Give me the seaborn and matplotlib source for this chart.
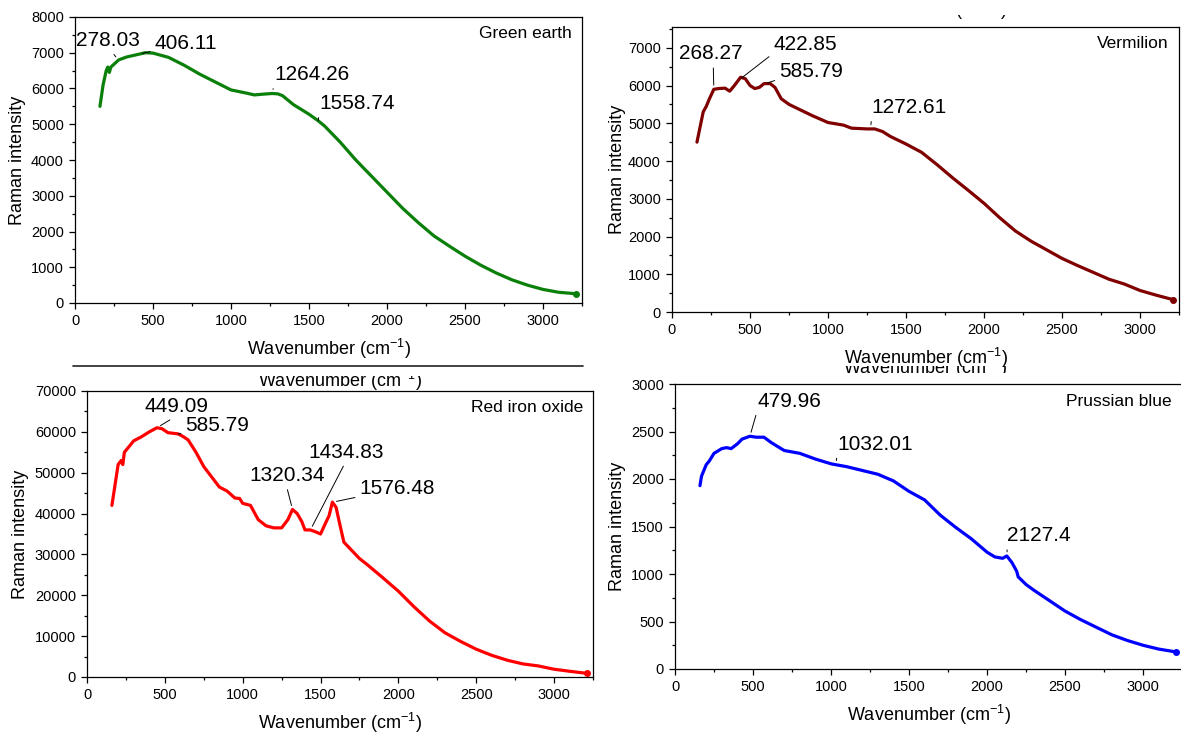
import numpy as np
import matplotlib
matplotlib.use("Agg")
import matplotlib.pyplot as plt
from matplotlib.ticker import MultipleLocator
from matplotlib.transforms import Bbox
import seaborn as sns

# ---- data ----
green_x = [160, 180, 200, 210, 220, 230, 280, 330, 400, 450, 500, 600, 700, 800, 900, 1000,
           1100, 1150, 1200, 1264, 1300, 1330, 1400, 1500, 1558, 1600, 1700, 1800, 1900, 2000,
           2100, 2200, 2300, 2400, 2500, 2600, 2700, 2800, 2900, 3000, 3100, 3210]
green_y = [5500, 6100, 6500, 6600, 6450, 6600, 6800, 6880, 6950, 7000, 6990, 6870, 6650, 6400,
           6180, 5960, 5870, 5820, 5840, 5860, 5850, 5800, 5550, 5280, 5100, 4950, 4500, 4000,
           3550, 3100, 2650, 2250, 1880, 1590, 1310, 1060, 840, 650, 500, 380, 300, 260]
green_peaks = [278.03, 406.11, 1264.26, 1558.74]

verm_x = [160, 180, 200, 220, 240, 268, 300, 340, 370, 400, 440, 470, 500, 530, 560, 590, 630,
          660, 700, 750, 800, 900, 1000, 1100, 1150, 1250, 1300, 1350, 1400, 1500, 1600, 1700,
          1800, 1900, 2000, 2100, 2200, 2300, 2400, 2500, 2600, 2700, 2800, 2900, 3000, 3100, 3210]
verm_y = [4500, 4900, 5300, 5450, 5650, 5900, 5920, 5930, 5850, 6000, 6220, 6180, 6000, 5920,
          5950, 6050, 6050, 5950, 5650, 5500, 5400, 5200, 5020, 4950, 4870, 4850, 4850, 4780,
          4650, 4450, 4230, 3900, 3550, 3220, 2880, 2500, 2150, 1880, 1650, 1420, 1230, 1050,
          870, 740, 570, 450, 330]
verm_peaks = [268.27, 422.85, 585.79, 1272.61]

red_x = [160, 180, 200, 220, 230, 240, 300, 350, 400, 449, 480, 520, 585, 620, 650, 700, 750,
         800, 850, 900, 950, 980, 1000, 1050, 1100, 1150, 1200, 1250, 1290, 1320, 1350, 1380,
         1400, 1434, 1470, 1500, 1530, 1555, 1576, 1600, 1620, 1650, 1700, 1750, 1800, 1900,
         2000, 2100, 2200, 2300, 2400, 2500, 2600, 2700, 2800, 2900, 3000, 3100, 3210]
red_y = [42000, 47000, 52000, 53000, 52000, 55000, 57800, 58800, 60000, 61000, 60800, 59800,
         59500, 58800, 58000, 55000, 51500, 49000, 46500, 45500, 43800, 43700, 42500, 42000,
         38500, 37000, 36500, 36500, 38500, 41000, 40000, 38000, 36000, 36000, 35500, 35000,
         37500, 39500, 42800, 41500, 38000, 33000, 31000, 29000, 27500, 24300, 21000, 17200,
         13700, 10800, 8700, 6800, 5300, 4100, 3200, 2700, 1900, 1400, 900]
red_peaks = [449.09, 585.79, 1320.34, 1434.83, 1576.48]

blue_x = [160, 170, 200, 220, 250, 300, 330, 360, 400, 430, 480, 520, 570, 620, 650, 700, 800,
          900, 1000, 1032, 1100, 1200, 1300, 1400, 1500, 1600, 1700, 1800, 1900, 2000, 2050,
          2100, 2127, 2160, 2190, 2200, 2250, 2300, 2400, 2500, 2600, 2700, 2800, 2900, 3000,
          3100, 3210]
blue_y = [1930, 2030, 2150, 2190, 2270, 2320, 2330, 2320, 2370, 2420, 2450, 2440, 2440, 2380,
          2350, 2300, 2270, 2210, 2160, 2150, 2130, 2090, 2050, 1980, 1870, 1780, 1620, 1490,
          1370, 1230, 1180, 1165, 1190, 1120, 1030, 970, 890, 830, 720, 610, 520, 440, 360,
          300, 250, 210, 180]
blue_peaks = [479.96, 1032.01, 2127.4]

# ---- layout ----
W, H = 1181, 733
sns.set_style("ticks")
plt.rcParams["font.family"] = ["Liberation Sans", "DejaVu Sans"]
plt.rcParams["mathtext.fontset"] = "custom"
plt.rcParams["mathtext.rm"] = "Liberation Sans"
plt.rcParams["mathtext.it"] = "Liberation Sans:italic"
for k in ["text.color", "axes.labelcolor", "xtick.color", "ytick.color", "axes.edgecolor"]:
    plt.rcParams[k] = "black"

fig = plt.figure(figsize=(W / 100, H / 100), dpi=100)
xlab = "Wavenumber (cm$^{-1}$)"


def px_axes(x0, x1, y0, y1):
    return fig.add_axes([x0 / W, 1 - y1 / H, (x1 - x0) / W, (y1 - y0) / H])


panels = [
    dict(box=(75, 582, 17, 303), x=green_x, y=green_y, peaks=green_peaks, color="#0a800a",
         name="Green earth", ylim=8000, major=1000, ylab_off=57,
         txt=[(7, 7340, (0.54, 0)), (512, 7250, (0, 0.15)), (1276, 6390, (0, 0)), (1566, 5580, (0, 0))]),
    dict(box=(672, 1179, 27, 312), x=verm_x, y=verm_y, peaks=verm_peaks, color="#800000",
         name="Vermilion", ylim=7550, major=1000, ylab_off=55,
         txt=[(48, 6840, (0.53, 0)), (650, 7080, (0, 0.05)), (688, 6370, (0, 0.1)), (1280, 5420, (0, 0))]),
    dict(box=(87, 593, 391, 677), x=red_x, y=red_y, peaks=red_peaks, color="#ff0000",
         name="Red iron oxide", ylim=70000, major=10000, ylab_off=66,
         txt=[(369, 66230, (0.5, 0)), (633, 61570, (0, 0.1)), (1042, 49300, (0.49, 0)),
              (1424, 55030, (0.49, 0)), (1751, 46030, (0, 0.1))]),
    dict(box=(675, 1182, 384, 669), x=blue_x, y=blue_y, peaks=blue_peaks, color="#0000ff",
         name="Prussian blue", ylim=3000, major=500, ylab_off=58,
         txt=[(527, 2818, (0, 0)), (1039, 2368, (0, 0)), (2130, 1403, (0, 0))]),
]

for p in panels:
    x0, x1, y0, y1 = p["box"]
    ax = px_axes(x0, x1, y0, y1)
    sns.lineplot(x=p["x"], y=p["y"], ax=ax, color=p["color"], linewidth=2.3)
    ax.plot(p["x"][-1:], p["y"][-1:], "o", ms=4, color=p["color"])
    ax.set_xlim(0, 3250)
    ax.set_ylim(0, p["ylim"])
    ax.xaxis.set_major_locator(MultipleLocator(500))
    ax.xaxis.set_minor_locator(MultipleLocator(250))
    ax.yaxis.set_major_locator(MultipleLocator(p["major"]))
    ax.yaxis.set_minor_locator(MultipleLocator(p["major"] / 2))
    ax.tick_params(which="both", direction="out", top=False, right=False,
                   width=0.9, labelsize=10.5, pad=3.5, color="black", labelcolor="black")
    ax.tick_params(which="major", length=4.5)
    ax.tick_params(which="minor", length=2.5)
    for s in ax.spines.values():
        s.set_visible(True)
        s.set_linewidth(0.9)
        s.set_color("black")

    ax.set_xlabel(xlab, fontsize=13, va="center", color="black")
    ax.xaxis.set_label_coords(0.5, -46 / (y1 - y0))
    ax.set_ylabel("Raman intensity", fontsize=13, va="center", color="black")
    ax.yaxis.set_label_coords(-p["ylab_off"] / (x1 - x0), 0.5)

    ax.text(0.98, 1 - 17 / (y1 - y0), p["name"], transform=ax.transAxes,
            ha="right", va="center", fontsize=12.5, color="black")

    for pk, (tx, ty, rp) in zip(p["peaks"], p["txt"]):
        ax.annotate(str(pk), xy=(pk, np.interp(pk, p["x"], p["y"])), xytext=(tx, ty),
                    textcoords="data", ha="left", va="center", fontsize=15, color="black",
                    arrowprops=dict(arrowstyle="-", color="black", lw=0.7,
                                    relpos=rp, shrinkA=1, shrinkB=3))


# ---- leftovers of overlapping panels seen in the reference ----
def ghost_text(cx, base_y, clip_top, clip_bot):
    t = fig.text(cx / W, 1 - base_y / H, xlab, ha="center", va="baseline",
                 fontsize=13, color="black")
    t.set_clip_box(Bbox([[0, H - clip_bot], [W, H - clip_top]]))
    t.set_clip_on(True)


fig.add_artist(plt.Line2D([73 / W, 583 / W], [1 - 366 / H, 1 - 366 / H],
                          color="#222222", lw=1.2))
ghost_text(340, 387, 376, 400)
ghost_text(925, 16, 15, 21)
ghost_text(925, 374, 366, 373)

fig.savefig("out.png", dpi=100)
